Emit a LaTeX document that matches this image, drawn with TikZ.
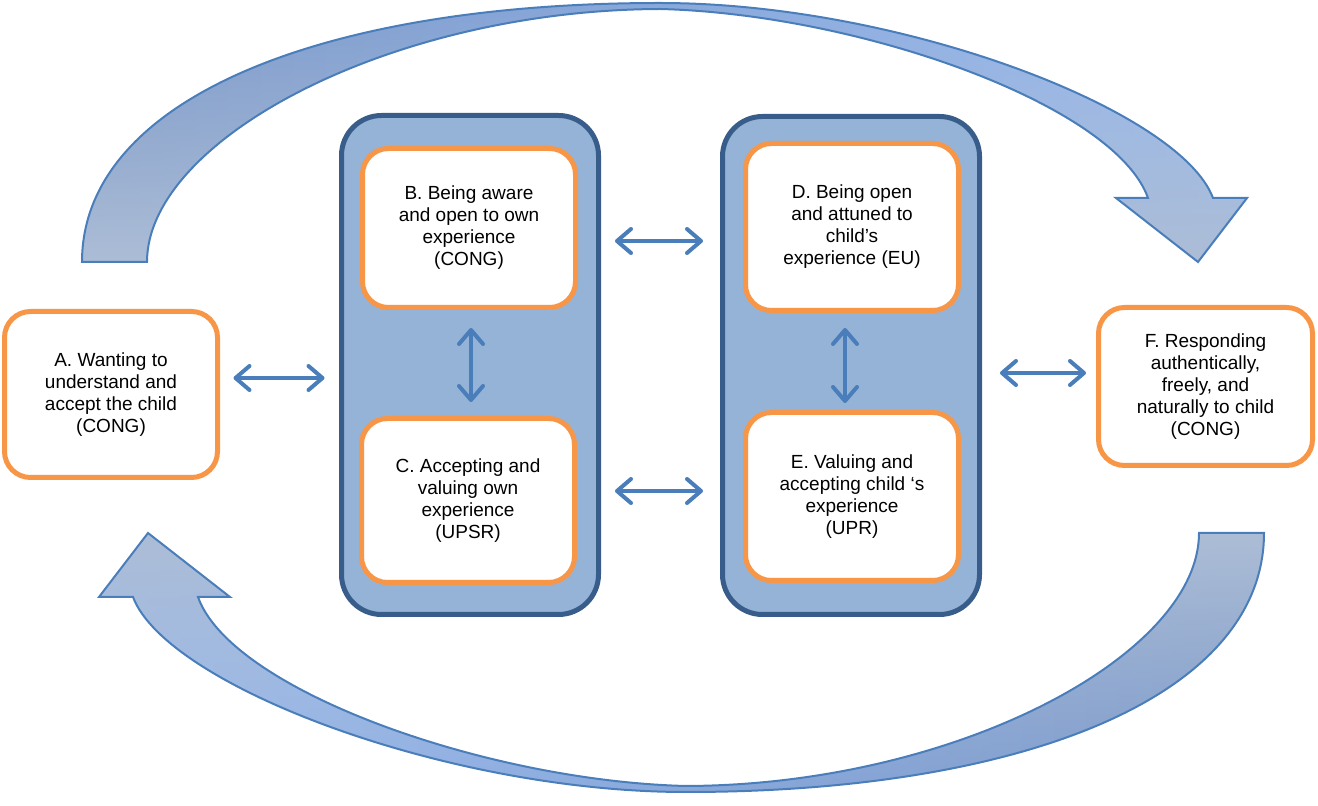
\documentclass[tikz,border=0pt]{standalone}
\usepackage{fontspec}
\setmainfont{Liberation Sans}
\usetikzlibrary{arrows.meta,calc,fadings}
\newdimen\upx \upx=0.5pt
\definecolor{orangeb}{HTML}{F79646}
\definecolor{contb}{HTML}{385D8A}
\definecolor{contf}{HTML}{95B3D7}
\definecolor{arrb}{HTML}{4A7EBB}
\definecolor{bigdark}{HTML}{7A97C7}
\definecolor{bigbright}{HTML}{99BBF1}
\definecolor{biggray}{HTML}{ACBDD6}
\begin{document}
\begin{tikzpicture}[x=0.5pt,y=-0.5pt,
  obox/.style={draw=orangeb, line width=2.5pt, fill=white, rounded corners=13pt,
    inner sep=0pt, outer sep=0pt, align=center, text=black,
    font=\fontsize{9.5}{11}\selectfont},
  cont/.style={draw=contb, line width=2.5pt, fill=contf, rounded corners=20pt,
    inner sep=0pt, outer sep=0pt},
  dbl/.style={draw=arrb, line width=2pt, line cap=round,
    {Straight Barb[length=7pt,width=12pt,round]}-{Straight Barb[length=7pt,width=12pt,round]}},
  bigline/.style={draw=arrb, line width=1pt, line join=miter}
]
\useasboundingbox (0,0) rectangle (1318,806);

\def\toparrow{(82,262) .. controls (82,100) and (320,3) .. (660,3)
  .. controls (900,3) and (1180,110) .. (1213,198) -- (1247,198) -- (1198,262)
  -- (1116,198) -- (1148,198) .. controls (1115,105) and (860,14) .. (660,9)
  .. controls (390,10) and (147,140) .. (147,262) -- cycle}
\def\botarrow{(1264,533) .. controls (1264,695) and (1026,792) .. (686,792)
  .. controls (446,792) and (166,685) .. (133,597) -- (99,597) -- (148,533)
  -- (230,597) -- (198,597) .. controls (231,690) and (486,781) .. (686,786)
  .. controls (956,785) and (1199,655) .. (1199,533) -- cycle}

% big curved arrows
\shade[left color=bigdark, right color=bigbright] \toparrow;
\fill[biggray, path fading=north] \toparrow;
\draw[bigline] \toparrow;
\shade[left color=bigbright, right color=bigdark] \botarrow;
\fill[biggray, path fading=south] \botarrow;
\draw[bigline] \botarrow;

% containers
\node[cont, minimum width=257\upx, minimum height=499\upx] (L) at (470,365) {};
\node[cont, minimum width=257\upx, minimum height=498\upx] (R) at (851,365.5) {};

% boxes
\node[obox, minimum width=213\upx, minimum height=166\upx] (A) at (111,394.5)
  {A. Wanting to\\ understand and\\ accept the child\\ (CONG)};
\node[obox, minimum width=213\upx, minimum height=159\upx] (B) at (469,228)
  {B. Being aware\\ and open to own\\ experience\\ (CONG)};
\node[obox, minimum width=213\upx, minimum height=164\upx] (C) at (468,500.5)
  {C. Accepting and\\ valuing own\\ experience\\ (UPSR)};
\node[obox, minimum width=213\upx, minimum height=167\upx] (D) at (852,227)
  {D. Being open\\ and attuned to\\ child’s\\ experience (EU)};
\node[obox, minimum width=213\upx, minimum height=168\upx] (E) at (852,496.5)
  {E. Valuing and\\ accepting child ‘s\\ experience\\ (UPR)};
\node[obox, minimum width=214\upx, minimum height=158\upx] (F) at (1205.5,386.5)
  {F. Responding\\ authentically,\\ freely, and\\ naturally to child\\ (CONG)};

% double arrows
\draw[dbl] ($(A.east)+(16,-16.5)$) -- ($(L.west)+(-17,13)$);
\draw[dbl] ($(B.east)+(39.5,13)$) -- ($(D.west)+(-42.5,14)$);
\draw[dbl] ($(C.east)+(40.5,-9.5)$) -- ($(E.west)+(-42.5,-5.5)$);
\draw[dbl] ($(R.east)+(20.5,7.5)$) -- ($(F.west)+(-12.5,-13.5)$);
\draw[dbl] ($(B.south)+(2,20.5)$) -- ($(C.north)+(3,-16.5)$);
\draw[dbl] ($(D.south)+(-7,17.5)$) -- ($(E.north)+(-7,-9.5)$);
\end{tikzpicture}
\end{document}
